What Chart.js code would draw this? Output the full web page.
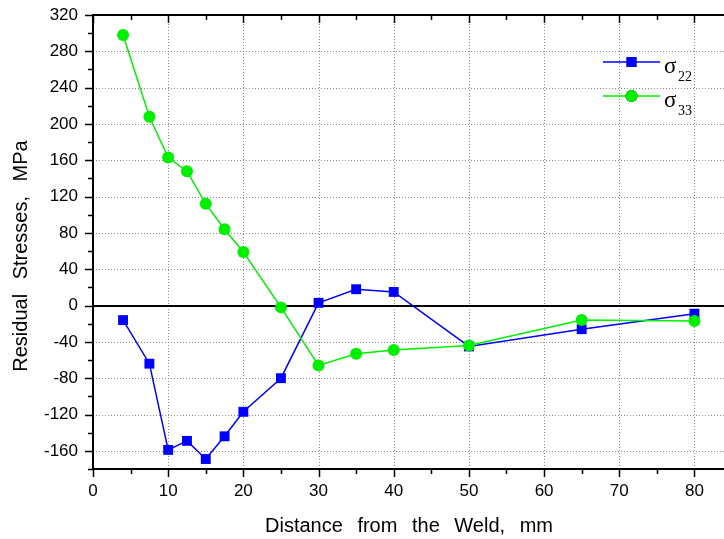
<!DOCTYPE html>
<html>
<head>
<meta charset="utf-8">
<script src="https://cdn.jsdelivr.net/npm/chart.js@4.4.1/dist/chart.umd.min.js"></script>
<style>
  html, body { margin: 0; padding: 0; background: #fff; overflow: hidden; }
</style>
</head>
<body>
<canvas id="stress-chart" width="724" height="539"></canvas>
<script>
// === Data ===
const distances = [4, 7.5, 10, 12.5, 15, 17.5, 20, 25, 30, 35, 40, 50, 65, 80];
const sigma22 = [-16, -64, -159, -149, -169, -144, -117, -80, 3, 18, 15, -45, -26, -9];
const sigma33 = [298, 208, 163, 148, 112, 84, 59, -2, -66, -53, -49, -44, -16, -17];
const seriesNames = ['22', '33'];          // subscripts for σ in the legend
const xTickLabels = [0, 10, 20, 30, 40, 50, 60, 70, 80];
const yTickLabels = [-160, -120, -80, -40, 0, 40, 80, 120, 160, 200, 240, 280, 320];

const BLUE = '#0000ff';
const GREEN = '#00f000';

const toPoints = ys => distances.map((x, i) => ({ x, y: ys[i] }));

// === Frame, ticks, grid, legend and axis titles ===
// the reference plot runs off the right edge of the picture, so the
// horizontal lines are carried on to the canvas edge
const framePlugin = {
  id: 'frame',
  beforeDatasetsDraw(chart) {
    const { ctx, chartArea: a, scales: { x, y } } = chart;
    const right = chart.width;
    ctx.save();
    // dotted grid
    ctx.strokeStyle = '#8c8c8c';
    ctx.lineWidth = 1;
    ctx.setLineDash([1, 2]);
    xTickLabels.forEach(v => {
      if (v === 0) return;
      const px = Math.round(x.getPixelForValue(v)) + 0.5;
      ctx.beginPath(); ctx.moveTo(px, a.top); ctx.lineTo(px, a.bottom); ctx.stroke();
    });
    yTickLabels.forEach(v => {
      if (v === 0 || v === 320) return;
      const py = Math.round(y.getPixelForValue(v)) + 0.5;
      ctx.beginPath(); ctx.moveTo(a.left, py); ctx.lineTo(right, py); ctx.stroke();
    });
    ctx.setLineDash([]);
    // zero line
    ctx.strokeStyle = '#000';
    ctx.lineWidth = 2;
    const zy = Math.round(y.getPixelForValue(0));
    ctx.beginPath(); ctx.moveTo(a.left, zy); ctx.lineTo(right, zy); ctx.stroke();
    ctx.restore();
  },
  afterDraw(chart) {
    const { ctx, chartArea: a, scales: { x, y } } = chart;
    const right = chart.width;
    ctx.save();
    ctx.strokeStyle = '#000';
    ctx.lineWidth = 2;
    // axis lines: left, bottom, top
    ctx.beginPath();
    ctx.moveTo(a.left, a.top); ctx.lineTo(a.left, a.bottom);
    ctx.moveTo(a.left - 1, a.bottom); ctx.lineTo(right, a.bottom);
    ctx.moveTo(a.left - 1, a.top); ctx.lineTo(right, a.top);
    ctx.stroke();
    // tick marks (major every 10 / 40, minor halfway)
    ctx.lineWidth = 1.5;
    ctx.beginPath();
    x.ticks.filter(t => t.value % 5 === 0).forEach(t => {
      const px = Math.round(x.getPixelForValue(t.value)) + 0.5;
      const len = t.value % 10 === 0 ? 8 : 5;
      ctx.moveTo(px, a.bottom); ctx.lineTo(px, a.bottom + len);
      ctx.moveTo(px, a.top); ctx.lineTo(px, a.top + len);
    });
    y.ticks.filter(t => t.value % 20 === 0).forEach(t => {
      const py = Math.round(y.getPixelForValue(t.value)) + 0.5;
      const len = t.value % 40 === 0 ? 8 : 5;
      ctx.moveTo(a.left, py); ctx.lineTo(a.left - len, py);
    });
    ctx.stroke();

    // axis titles
    ctx.fillStyle = '#000';
    ctx.font = '20px "Liberation Sans", Arial, sans-serif';
    if ('wordSpacing' in ctx) ctx.wordSpacing = '9px';
    ctx.textAlign = 'center';
    ctx.textBaseline = 'alphabetic';
    ctx.fillText('Distance from the Weld, mm', 409, 532);
    ctx.save();
    ctx.translate(27, 256);
    ctx.rotate(-Math.PI / 2);
    ctx.fillText('Residual Stresses, MPa', 0, 0);
    ctx.restore();
    if ('wordSpacing' in ctx) ctx.wordSpacing = '0px';

    // legend
    const rows = [
      { ds: chart.data.datasets[0], yy: 62, sub: seriesNames[0] },
      { ds: chart.data.datasets[1], yy: 96, sub: seriesNames[1] }
    ];
    rows.forEach(r => {
      ctx.strokeStyle = r.ds.borderColor;
      ctx.lineWidth = 1.5;
      ctx.beginPath(); ctx.moveTo(603, r.yy); ctx.lineTo(660, r.yy); ctx.stroke();
      Chart.helpers.drawPoint(ctx, {
        pointStyle: r.ds.pointStyle, radius: r.ds.pointRadius, borderWidth: 0, rotation: 0
      }, 631.5, r.yy);
      ctx.fillStyle = r.ds.borderColor;
      ctx.fill();
      ctx.fillStyle = '#000';
      ctx.textAlign = 'left';
      ctx.font = '23px "Liberation Serif", "Times New Roman", serif';
      ctx.fillText('σ', 664, r.yy + 11);
      ctx.font = '14px "Liberation Serif", "Times New Roman", serif';
      ctx.fillText(r.sub, 678, r.yy + 19);
    });
    ctx.restore();
  }
};

// === Chart ===
const chart = new Chart(document.getElementById('stress-chart').getContext('2d'), {
  type: 'line',
  data: {
    datasets: [{
      label: 'σ22',
      data: toPoints(sigma22),
      borderColor: BLUE,
      backgroundColor: BLUE,
      borderWidth: 1.5,
      pointStyle: 'rect',
      pointRadius: 7,
      pointBorderWidth: 0,
      order: 1
    }, {
      label: 'σ33',
      data: toPoints(sigma33),
      borderColor: GREEN,
      backgroundColor: GREEN,
      borderWidth: 1.5,
      pointStyle: 'circle',
      pointRadius: 6,
      pointBorderWidth: 0,
      order: 0
    }]
  },
  options: {
    responsive: false,
    devicePixelRatio: 1,
    animation: false,
    layout: { padding: { top: 15, right: 0, bottom: 0, left: 0 } },
    plugins: {
      legend: { display: false },
      tooltip: { enabled: false }
    },
    scales: {
      x: {
        type: 'linear',
        min: 0,
        max: 83,
        grid: { display: false, drawTicks: false },
        border: { display: false },
        afterFit: s => { s.height = 70; s.paddingLeft = 0; s.paddingRight = 0; },
        ticks: {
          stepSize: 5,
          includeBounds: false,
          autoSkip: false,
          maxRotation: 0,
          padding: 12,
          color: '#000',
          font: { family: '"Liberation Sans", Arial, sans-serif', size: 17 },
          callback: v => xTickLabels.includes(v) ? String(v) : ''
        }
      },
      y: {
        min: -180,
        max: 320,
        grid: { display: false, drawTicks: false },
        border: { display: false },
        afterFit: s => { s.width = 93; s.paddingTop = 0; s.paddingBottom = 0; },
        ticks: {
          stepSize: 20,
          autoSkip: false,
          padding: 15,
          color: '#000',
          font: { family: '"Liberation Sans", Arial, sans-serif', size: 17 },
          callback: v => yTickLabels.includes(v) ? String(v) : ''
        }
      }
    }
  },
  plugins: [framePlugin]
});
</script>
</body>
</html>
